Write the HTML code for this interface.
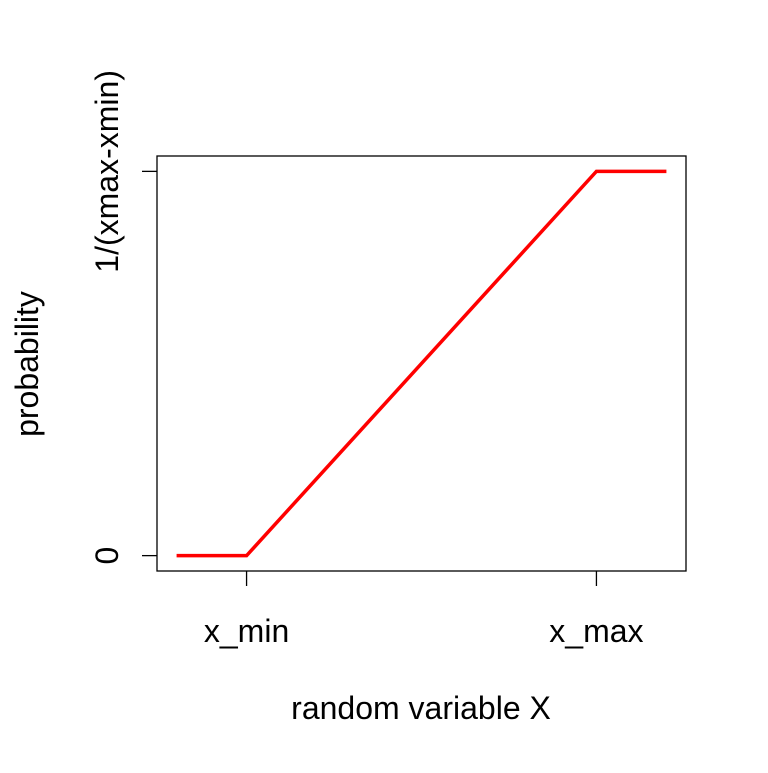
<!DOCTYPE html>
<html><head><meta charset="utf-8"><style>
body{margin:0;background:#fff}
svg text{font-family:"Liberation Sans",Arial,sans-serif;font-size:32px;fill:#000}
</style></head><body>
<svg width="768" height="768">
<rect x="157" y="156" width="529" height="415" fill="none" stroke="#000" stroke-width="1.3"/>
<g id="axes"></g>
<polyline id="cdf" fill="none" stroke="#ff0000" stroke-width="3.5"/>
<text x="421" y="719" text-anchor="middle">random variable X</text>
<text transform="translate(38,364) rotate(-90)" text-anchor="middle">probability</text>
</svg>
<script>
const xs=[-0.2,0,1,1.2];
const ys=[0,0,1,1];
const xTicks=[0,1];
const xTickLabels=["x_min","x_max"];
const yTicks=[0,1];
const yTickLabels=["0","1/(xmax-xmin)"];
const X=v=>157+(v+0.256)/1.512*529;
const Y=v=>571-(v+0.04)/1.08*415;
const NS="http://www.w3.org/2000/svg";
document.getElementById('cdf').setAttribute('points',xs.map((x,i)=>X(x)+','+Y(ys[i])).join(' '));
const g=document.getElementById('axes');
function mk(t,a){const e=document.createElementNS(NS,t);for(const k in a)e.setAttribute(k,a[k]);g.appendChild(e);return e;}
xTicks.forEach((v,i)=>{
 const l=mk('line',{x1:X(v),x2:X(v),y1:571,y2:586,stroke:'#000','stroke-width':1.3});
 
 
 const t=mk('text',{x:X(v),y:642,'text-anchor':'middle'});t.textContent=xTickLabels[i];
 
 
});
yTicks.forEach((v,i)=>{
 const l=mk('line',{x1:142,x2:157,y1:Y(v),y2:Y(v),stroke:'#000','stroke-width':1.3});
 
 
 const t=mk('text',{transform:`translate(118,${Y(v)}) rotate(-90)`,'text-anchor':'middle'});t.textContent=yTickLabels[i];
 
 
});
</script>
</body></html>
